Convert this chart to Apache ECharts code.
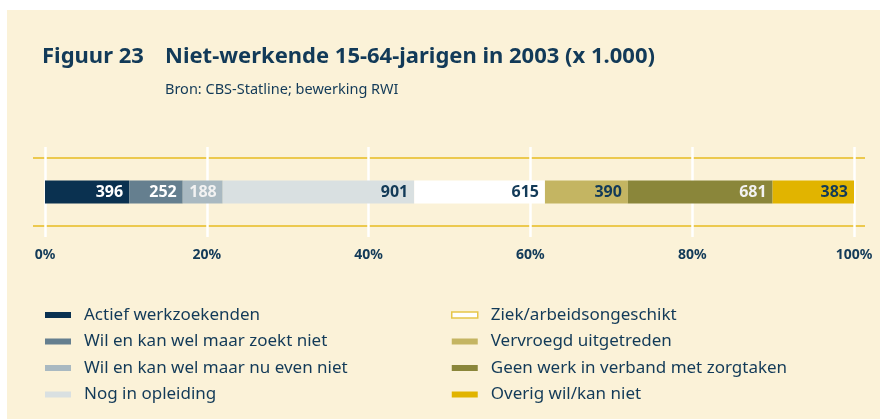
<!DOCTYPE html>
<html>
<head>
<meta charset="utf-8">
<script src="https://cdn.jsdelivr.net/npm/echarts@6/dist/echarts.min.js"></script>
<style>
  html, body { margin: 0; padding: 0; background: #ffffff; }
  #bg { position: absolute; left: 7px; top: 10px; width: 873px; height: 409px; background: #fbf2d8; }
  #chart { position: absolute; left: 0; top: 0; width: 880px; height: 419px; }
</style>
</head>
<body>
<div id="bg"></div>
<div id="chart"></div>
<script>
// categorieën en waarden (x 1.000)
const names = [
    'Actief werkzoekenden',
    'Wil en kan wel maar zoekt niet',
    'Wil en kan wel maar nu even niet',
    'Nog in opleiding',
    'Ziek/arbeidsongeschikt',
    'Vervroegd uitgetreden',
    'Geen werk in verband met zorgtaken',
    'Overig wil/kan niet'
]
const values = [396, 252, 188, 901, 615, 390, 681, 383]
const colors = ['#0a3150', '#657f8f', '#a9b9c1', '#d9e0e1', '#ffffff', '#c4b562', '#8a863a', '#e1b400']
const labelColors = ['#ffffff', '#ffffff', '#f2f2f2', '#123a58', '#123a58', '#123a58', '#f2f2f2', '#123a58']
const tickPercents = [0, 20, 40, 60, 80, 100]

const total = values.reduce((a, b) => a + b, 0)
const navy = '#123a58'
const font = '"Noto Sans", "Open Sans", sans-serif'

const chart = echarts.init(document.getElementById('chart'))

const series = names.map((name, i) => ({
    name: name,
    type: 'bar',
    stack: 'totaal',
    barWidth: 23,
    xAxisIndex: 0,
    yAxisIndex: 0,
    itemStyle: { color: colors[i] },
    label: {
        show: true,
        position: 'insideRight',
        distance: 6,
        color: labelColors[i],
        fontFamily: font,
        fontWeight: 'bold',
        fontSize: 16
    },
    data: [values[i]]
}))

const legendItem = (name, i) => {
    const item = { name: name, itemStyle: { color: colors[i] } }
    if (colors[i] === '#ffffff') {
        item.itemStyle = { color: '#ffffff', borderColor: '#e6c64a', borderWidth: 1.5 }
    }
    return item
}

const legendBase = {
    orient: 'vertical',
    top: 305,
    height: 114,
    padding: 0,
    itemWidth: 26,
    itemHeight: 6,
    itemGap: 6.5,
    icon: 'rect',
    selectedMode: false,
    textStyle: { color: navy, fontFamily: font, fontSize: 17, lineHeight: 20, padding: [0, 0, 0, 8] }
}

chart.setOption({
    backgroundColor: 'transparent',
    animation: false,
    title: [
        {
            text: 'Figuur 23',
            left: 42, top: 46,
            padding: 0,
            textStyle: { color: navy, fontFamily: font, fontWeight: 'bold', fontSize: 22 }
        },
        {
            text: 'Niet-werkende 15-64-jarigen in 2003 (x 1.000)',
            subtext: 'Bron: CBS-Statline; bewerking RWI',
            left: 165, top: 46,
            padding: 0,
            itemGap: 14,
            textStyle: { color: navy, fontFamily: font, fontWeight: 'bold', fontSize: 22 },
            subtextStyle: { color: navy, fontFamily: font, fontSize: 14.5 }
        }
    ],
    legend: [
        Object.assign({}, legendBase, { left: 45, data: names.slice(0, 4).map((n, i) => legendItem(n, i)) }),
        Object.assign({}, legendBase, { left: 451, data: names.slice(4).map((n, i) => legendItem(n, i + 4)) })
    ],
    grid: [
        { left: 45, right: 26, top: 147, height: 90 },
        { left: 33, right: 15, top: 158, height: 68 }
    ],
    xAxis: [
        {
            type: 'value',
            gridIndex: 0,
            min: 0,
            max: total,
            interval: total / (tickPercents.length - 1),
            axisLine: { show: false },
            axisTick: { show: false },
            splitLine: { show: true, lineStyle: { color: '#ffffff', width: 2.5 } },
            axisLabel: {
                margin: 11,
                color: navy,
                fontFamily: font,
                fontWeight: 'bold',
                fontSize: 14,
                formatter: (v) => Math.round(v / total * 100) + '%'
            }
        },
        {
            type: 'value',
            gridIndex: 1,
            show: false
        }
    ],
    yAxis: [
        {
            type: 'category',
            gridIndex: 0,
            data: ['2003'],
            axisLine: { show: false },
            axisTick: { show: false },
            axisLabel: { show: false },
            splitLine: { show: false }
        },
        {
            type: 'category',
            gridIndex: 1,
            data: ['2003'],
            axisLine: { show: false },
            axisTick: { show: false },
            axisLabel: { show: false },
            splitLine: { show: true, lineStyle: { color: '#ecc94e', width: 2 } }
        }
    ],
    series: series
})
</script>
</body>
</html>
